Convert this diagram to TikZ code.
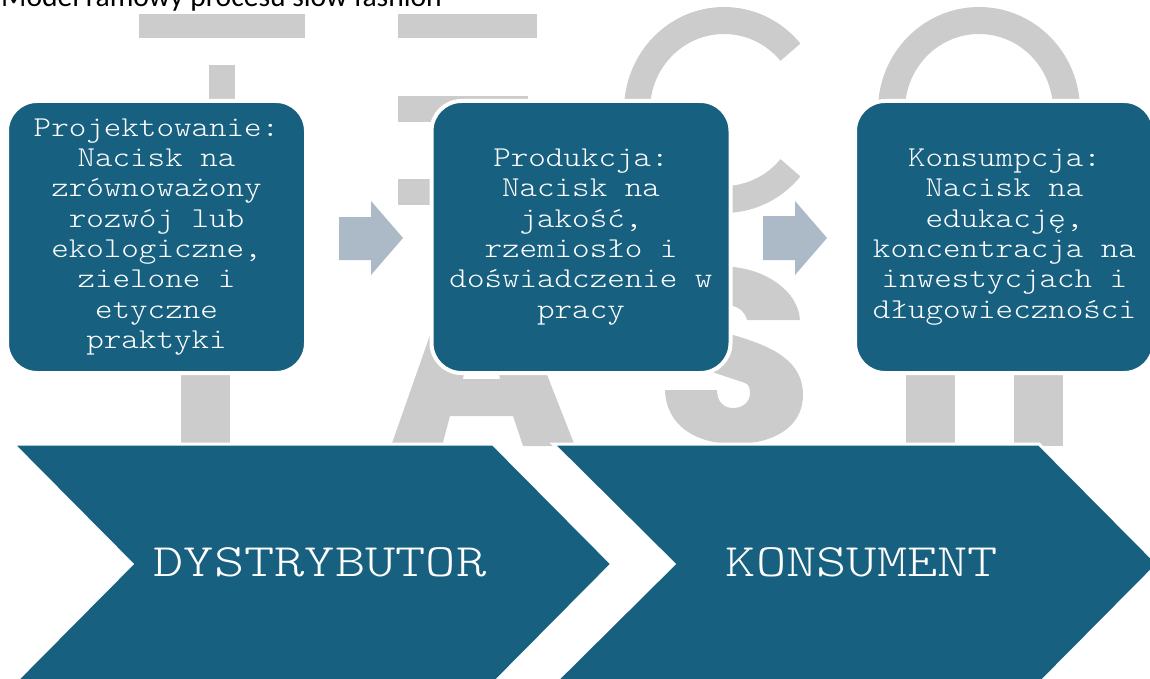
\documentclass[tikz,border=0pt]{standalone}
\usepackage{fontspec}
\newfontfamily\boxmono{Latin Modern Mono Light}[FakeStretch=1.16]
\newfontfamily\chevmono{Latin Modern Mono Light}[FakeStretch=1.24]
\newfontfamily\titlefont{Carlito}
\definecolor{phaseblue}{HTML}{17607F}
\definecolor{lettergray}{HTML}{CCCCCC}
\definecolor{arrowgray}{HTML}{ACB9C6}
\tikzset{
  phasebox/.style={fill=phaseblue, draw=white, line width=4pt, rounded corners=30pt,
    minimum width=299pt, minimum height=272pt, inner sep=0pt, align=center,
    text=white, font=\boxmono\fontsize{28.8}{30.3}\selectfont},
  chevron/.style={fill=phaseblue, draw=white, line width=3pt},
  chevlabel/.style={text=white, inner sep=0pt, font=\chevmono\fontsize{46.5}{50}\selectfont},
  blockarrow/.style={fill=arrowgray},
  letterpiece/.style={fill=lettergray},
}
\begin{document}
\begin{tikzpicture}[x=1pt, y=-1pt]
\useasboundingbox (0,0) rectangle (1150,679);
\clip (0,0) rectangle (1150,679);

% large background lettering
\fill[letterpiece] (139,14) rectangle (305,38);
\fill[letterpiece] (209,65) rectangle (235,200);
\fill[letterpiece] (398,14) rectangle (537,38);
\fill[letterpiece] (398,96) rectangle (528,122);
\fill[letterpiece] (398,179) rectangle (500,205);
\begin{scope}
  \clip (724,110) -- (955,-91) -- (600,-91) -- (600,311) -- (955,311) -- cycle;
  \fill[letterpiece, even odd rule] (724,110) ellipse [x radius=100pt, y radius=103pt]
    (724,110) ellipse [x radius=74pt, y radius=76pt];
\end{scope}
\fill[letterpiece, even odd rule] (979,110) ellipse [x radius=101pt, y radius=103pt]
  (979,110) ellipse [x radius=74pt, y radius=76pt];
\fill[letterpiece] (181,300) rectangle (230,446);
\fill[letterpiece, even odd rule]
  (391,446) -- (460,250) -- (498,250) -- (575,446) -- (523,446) -- (513,416)
  -- (450,416) -- (442,446) -- cycle
  (463,379) -- (500,379) -- (485,300) -- (478,300) -- cycle;
\fill[letterpiece] (720,262) -- (733,267) .. controls (765,270) and (798,290) .. (800,320)
  -- (747,320) .. controls (745,312) and (740,308) .. (733,306) -- (720,300) -- cycle;
\fill[letterpiece] (700,325) -- (733,335) .. controls (775,347) and (803,362) .. (803,395)
  .. controls (803,428) and (772,444) .. (735,444) .. controls (695,444) and (666,425) .. (665,390)
  -- (717,390) .. controls (717,402) and (724,408) .. (733,408)
  .. controls (744,408) and (750,401) .. (750,393) .. controls (750,387) and (748,384) .. (745,383)
  -- (700,368) -- cycle;
\fill[letterpiece] (906,300) rectangle (955,446);
\fill[letterpiece] (1014,300) rectangle (1063,446);

% three phases
\node[phasebox] (proj) at (156.5,237) {Projektowanie:\\Nacisk na\\zrównoważony\\rozwój lub\\ekologiczne,\\zielone i\\etyczne\\praktyki};
\node[phasebox] (prod) at (581,237) {Produkcja:\\Nacisk na\\jakość,\\rzemiosło i\\doświadczenie w\\pracy};
\node[phasebox] (kons) at (1004.5,237) {Konsumpcja:\\Nacisk na\\edukację,\\koncentracja na\\inwestycjach i\\długowieczności};

% block arrows between phases
\fill[blockarrow] (339,217) -- (371,217) -- (371,201) -- (403,238) -- (371,275)
  -- (371,260) -- (339,260) -- cycle;
\fill[blockarrow] (763,216) -- (795,216) -- (795,201) -- (827,238) -- (795,275)
  -- (795,260) -- (763,260) -- cycle;

% chevrons
\filldraw[chevron] (13,444) -- (493,444) -- (612,564) -- (493,684) -- (13,684) -- (132,564) -- cycle;
\filldraw[chevron] (553,444) -- (1039,444) -- (1158,564) -- (1039,684) -- (553,684) -- (674,564) -- cycle;
\node[chevlabel] (dist) at (320,562) {DYSTRYBUTOR};
\node[chevlabel] (cons) at (862,562) {KONSUMENT};

% heading
\node[anchor=base west, inner sep=0pt, font=\titlefont\fontsize{29.6}{32}\selectfont] (title) at (1,7) {Model ramowy procesu slow fashion};
\end{tikzpicture}
\end{document}
